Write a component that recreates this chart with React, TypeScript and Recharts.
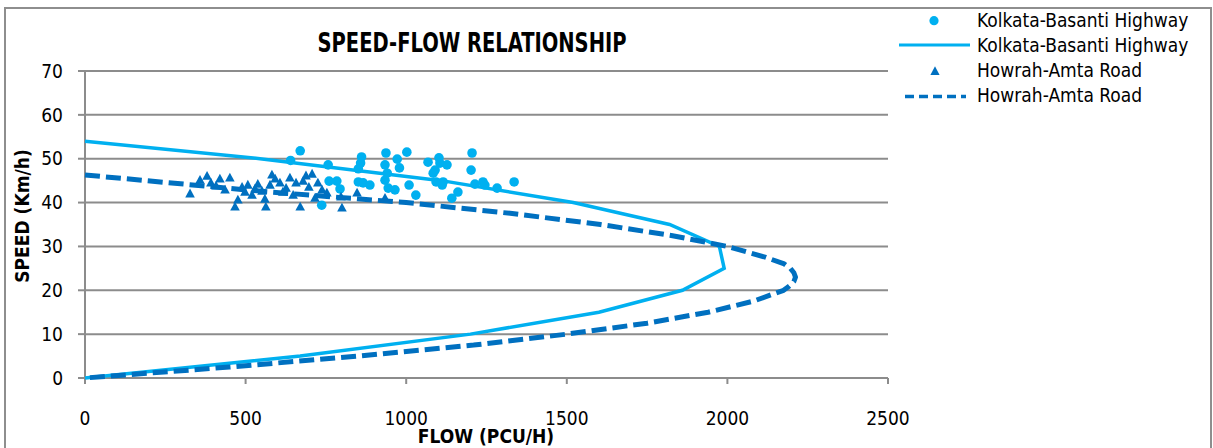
import React from 'react';
import { ScatterChart, Scatter, XAxis, YAxis, CartesianGrid } from 'recharts';

const FONT = '"DejaVu Sans Condensed", "DejaVu Sans", sans-serif';
const KB_COLOR = '#00B0F0';
const HA_COLOR = '#0070C0';
const GRID = '#8c8c8c';

const xTicks = [0, 500, 1000, 1500, 2000, 2500];
const yTicks = [0, 10, 20, 30, 40, 50, 60, 70];

const titleText = 'SPEED-FLOW RELATIONSHIP';
const xTitle = 'FLOW (PCU/H)';
const yTitle = 'SPEED (Km/h)';
const kbName = 'Kolkata-Basanti Highway';
const haName = 'Howrah-Amta Road';

// Kolkata-Basanti Highway observed points (flow, speed)
const kbObserved = [
  { x: 640, y: 49.6 }, { x: 670, y: 51.8 }, { x: 757, y: 48.6 }, { x: 760, y: 44.9 },
  { x: 784, y: 44.9 }, { x: 794, y: 43.1 }, { x: 737, y: 39.4 }, { x: 861, y: 50.4 },
  { x: 858, y: 49.0 }, { x: 851, y: 47.7 }, { x: 851, y: 44.7 }, { x: 866, y: 44.5 },
  { x: 887, y: 44.0 }, { x: 937, y: 51.3 }, { x: 934, y: 48.6 }, { x: 941, y: 46.7 },
  { x: 934, y: 45.1 }, { x: 944, y: 43.3 }, { x: 965, y: 42.9 }, { x: 972, y: 49.9 },
  { x: 979, y: 47.9 }, { x: 1002, y: 51.5 }, { x: 1009, y: 44.0 }, { x: 1030, y: 41.7 },
  { x: 1068, y: 49.2 }, { x: 1090, y: 47.4 }, { x: 1102, y: 50.2 }, { x: 1105, y: 49.0 },
  { x: 1127, y: 48.6 }, { x: 1084, y: 46.7 }, { x: 1093, y: 44.7 }, { x: 1115, y: 44.7 },
  { x: 1112, y: 44.0 }, { x: 1161, y: 42.4 }, { x: 1142, y: 41.0 }, { x: 1205, y: 51.3 },
  { x: 1202, y: 47.4 }, { x: 1214, y: 44.2 }, { x: 1239, y: 44.7 }, { x: 1245, y: 44.0 },
  { x: 1283, y: 43.3 }, { x: 1336, y: 44.7 },
];

// Kolkata-Basanti Highway fitted curve
const kbCurve = [
  { x: 0, y: 54 }, { x: 545, y: 50 }, { x: 1110, y: 45 }, { x: 1520, y: 40 },
  { x: 1820, y: 35 }, { x: 1975, y: 30 }, { x: 1990, y: 25 }, { x: 1860, y: 20 },
  { x: 1600, y: 15 }, { x: 1200, y: 10 }, { x: 670, y: 5 }, { x: 0, y: 0 },
];

// Howrah-Amta Road observed points
const haObserved = [
  { x: 327, y: 42.0 }, { x: 358, y: 45.1 }, { x: 380, y: 46.0 }, { x: 392, y: 44.5 },
  { x: 408, y: 43.8 }, { x: 420, y: 45.4 }, { x: 436, y: 42.9 }, { x: 451, y: 45.6 },
  { x: 467, y: 39.0 }, { x: 476, y: 40.6 }, { x: 489, y: 43.5 }, { x: 498, y: 42.4 },
  { x: 507, y: 44.0 }, { x: 520, y: 41.7 }, { x: 529, y: 43.1 }, { x: 538, y: 44.2 },
  { x: 551, y: 42.6 }, { x: 560, y: 40.8 }, { x: 563, y: 39.0 }, { x: 576, y: 44.0 },
  { x: 582, y: 46.3 }, { x: 592, y: 45.4 }, { x: 607, y: 44.5 }, { x: 616, y: 42.4 },
  { x: 626, y: 43.3 }, { x: 638, y: 45.6 }, { x: 648, y: 41.7 }, { x: 657, y: 44.5 },
  { x: 670, y: 39.0 }, { x: 679, y: 44.9 }, { x: 688, y: 46.1 }, { x: 697, y: 43.5 },
  { x: 707, y: 46.5 }, { x: 716, y: 41.0 }, { x: 725, y: 44.5 }, { x: 738, y: 42.9 },
  { x: 753, y: 42.2 }, { x: 797, y: 41.3 }, { x: 800, y: 38.8 }, { x: 847, y: 42.2 },
  { x: 934, y: 41.0 },
];

// Howrah-Amta Road fitted curve
const haCurve = [
  { x: 0, y: 46.3 }, { x: 190, y: 45 }, { x: 560, y: 42.5 }, { x: 1000, y: 40 },
  { x: 1330, y: 37.5 }, { x: 1605, y: 35 }, { x: 1825, y: 32.5 }, { x: 2000, y: 30 },
  { x: 2120, y: 27.5 }, { x: 2177, y: 26 }, { x: 2196, y: 25 }, { x: 2207, y: 24 },
  { x: 2212, y: 23 }, { x: 2207, y: 22 }, { x: 2193, y: 21 }, { x: 2175, y: 20 },
  { x: 2080, y: 17.5 }, { x: 1940, y: 15 }, { x: 1750, y: 12.5 }, { x: 1500, y: 10 },
  { x: 1210, y: 7.5 }, { x: 850, y: 5 }, { x: 450, y: 2.5 }, { x: 0, y: 0 },
];

const Circle = (p: any) => <circle cx={p.cx} cy={p.cy} r={4.8} fill={KB_COLOR} />;
const Tri = (p: any) => (
  <path
    d={`M${p.cx},${p.cy - 5.2} L${p.cx + 4.8},${p.cy + 3.6} L${p.cx - 4.8},${p.cy + 3.6} Z`}
    fill={HA_COLOR}
  />
);
const Nothing = () => <g />;

const tickStyle = { fontSize: 19, fill: '#000', fontFamily: FONT };

export default function App() {
  return (
    <div style={{ position: 'absolute', left: 0, top: 0, width: 1213, height: 448, overflow: 'hidden', background: '#fff' }}>
      <div
        style={{
          position: 'absolute', left: 4, top: 7, width: 1208, height: 470,
          border: '2px solid #8e8e8e', boxSizing: 'border-box',
        }}
      />
      <div style={{ position: 'absolute', left: 0, top: 0 }}>
        <ScatterChart width={1213} height={448} margin={{ top: 71, right: 325, bottom: 0, left: 0 }}>
          <CartesianGrid vertical={false} stroke={GRID} strokeWidth={2} />
          <XAxis
            type="number"
            dataKey="x"
            domain={[0, 2500]}
            ticks={xTicks}
            height={70}
            tickSize={6}
            tickMargin={28}
            axisLine={{ stroke: GRID, strokeWidth: 2 }}
            tickLine={{ stroke: GRID, strokeWidth: 2 }}
            tick={tickStyle}
            interval={0}
          />
          <YAxis
            type="number"
            dataKey="y"
            domain={[0, 70]}
            ticks={yTicks}
            width={85}
            tickSize={7}
            tickMargin={15}
            axisLine={{ stroke: GRID, strokeWidth: 2 }}
            tickLine={{ stroke: GRID, strokeWidth: 2 }}
            tick={tickStyle}
            interval={0}
          />
          <Scatter
            name={kbName + ' fit'}
            data={kbCurve}
            line={{ stroke: KB_COLOR, strokeWidth: 3.5 }}
            lineType="joint"
            shape={Nothing}
            isAnimationActive={false}
          />
          <Scatter
            name={haName + ' fit'}
            data={haCurve}
            line={{ stroke: HA_COLOR, strokeWidth: 5, strokeDasharray: '15 6', strokeLinejoin: 'round' }}
            lineType="joint"
            shape={Nothing}
            isAnimationActive={false}
          />
          <Scatter name={kbName} data={kbObserved} shape={Circle} isAnimationActive={false} />
          <Scatter name={haName} data={haObserved} shape={Tri} isAnimationActive={false} />
        </ScatterChart>
      </div>
      <svg width={1213} height={448} style={{ position: 'absolute', left: 0, top: 0, pointerEvents: 'none' }}>
        <text
          x={472}
          y={52}
          textAnchor="middle"
          fontFamily={FONT}
          fontWeight="bold"
          fontSize={26}
          textLength={309}
          lengthAdjust="spacingAndGlyphs"
          fill="#000"
        >
          {titleText}
        </text>
        <text x={486} y={443} textAnchor="middle" fontFamily={FONT} fontWeight="bold" fontSize={19} fill="#000">
          {xTitle}
        </text>
        <text
          transform="translate(29,216) rotate(-90)"
          textAnchor="middle"
          fontFamily={FONT}
          fontWeight="bold"
          fontSize={19}
          fill="#000"
        >
          {yTitle}
        </text>
        {/* legend */}
        <circle cx={934} cy={20.7} r={4.6} fill={KB_COLOR} />
        <line x1={899} y1={45} x2={970} y2={45} stroke={KB_COLOR} strokeWidth={3} />
        <path d="M935,66.3 L939.6,74.9 L930.4,74.9 Z" fill={HA_COLOR} />
        <line x1={905} y1={96.5} x2={966} y2={96.5} stroke={HA_COLOR} strokeWidth={3.5} strokeDasharray="9 5" />
        <text x={977} y={27} fontFamily={FONT} fontSize={19} fill="#000">{kbName}</text>
        <text x={977} y={52} fontFamily={FONT} fontSize={19} fill="#000">{kbName}</text>
        <text x={977} y={77} fontFamily={FONT} fontSize={19} fill="#000">{haName}</text>
        <text x={977} y={102} fontFamily={FONT} fontSize={19} fill="#000">{haName}</text>
      </svg>
    </div>
  );
}
